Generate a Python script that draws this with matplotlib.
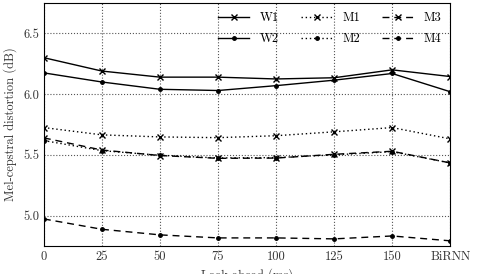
import matplotlib
matplotlib.use("Agg")
import matplotlib.pyplot as plt

plt.rcParams["font.family"] = ["cmr10", "DejaVu Serif"]
plt.rcParams["axes.formatter.use_mathtext"] = True

labels = ["0", "25", "50", "75", "100", "125", "150", "BiRNN"]
w1 = [6.30, 6.19, 6.14, 6.14, 6.125, 6.135, 6.20, 6.145]
w2 = [6.175, 6.10, 6.04, 6.03, 6.07, 6.115, 6.17, 6.02]
m1 = [5.725, 5.665, 5.648, 5.642, 5.658, 5.69, 5.725, 5.632]
m2 = [5.618, 5.535, 5.497, 5.475, 5.478, 5.50, 5.527, 5.434]
m3 = [5.64, 5.54, 5.495, 5.472, 5.474, 5.505, 5.53, 5.434]
m4 = [4.973, 4.888, 4.842, 4.817, 4.817, 4.809, 4.833, 4.793]

x = list(range(len(labels)))

fig = plt.figure(figsize=(4.82, 2.74), dpi=100)
ax = fig.add_axes([0.091, 0.102, 0.843, 0.887])

dash = (5, 3.5)
ax.plot(x, w1, "k-", marker="x", ms=4, lw=1, label="W1")
ax.plot(x, w2, "k-", marker=".", ms=5, lw=1, label="W2")
ax.plot(x, m1, "k", ls=(0, (1, 2)), marker="x", ms=4, lw=1, label="M1")
ax.plot(x, m2, "k", ls=(0, (1, 2)), marker=".", ms=5, lw=1, label="M2")
ax.plot(x, m3, "k", ls=(0, dash), marker="x", ms=4, lw=1, label="M3")
ax.plot(x, m4, "k", ls=(0, dash), marker=".", ms=5, lw=1, label="M4")

ax.set_xlim(0, 7)
ax.set_ylim(4.75, 6.75)
ax.set_xticks(x)
ax.set_xticklabels(labels)
ax.set_yticks([5.0, 5.5, 6.0, 6.5])
ax.set_yticklabels(["5.0", "5.5", "6.0", "6.5"])
ax.tick_params(direction="in", length=0, labelsize=9, colors="#333333")
ax.grid(True, linestyle=":", color="#555555", lw=0.8)
ax.set_xlabel("Look ahead (ms)", fontsize=9, color="#333333")
ax.set_ylabel("Mel-cepstral distortion (dB)", fontsize=9, color="#333333")

ax.legend(ncol=3, loc="upper right", frameon=False, fontsize=9,
          numpoints=1, handlelength=2.5, columnspacing=1.8,
          borderaxespad=0.3, labelspacing=0.75)

fig.savefig("out.png", dpi=100)
